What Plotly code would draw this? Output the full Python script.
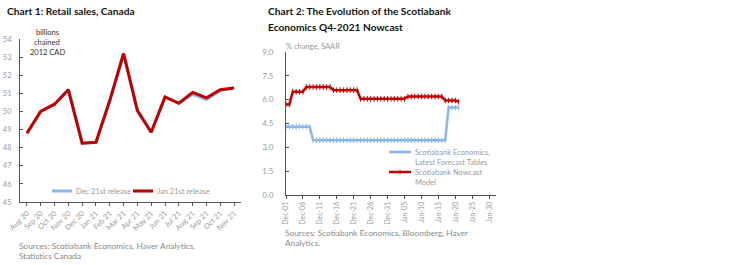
import plotly.graph_objects as go

# ---------------- Chart 1 data ----------------
months = ["Aug 20", "Sep 20", "Oct 20", "Nov 20", "Dec 20", "Jan 21", "Feb 21", "Mar 21",
          "Apr 21", "May 21", "Jun 21", "Jul 21", "Aug 21", "Sep 21", "Oct 21", "Nov 21"]
dec_release = [48.8, 50.0, 50.4, 51.2, 48.25, 48.3, 50.6, 53.2,
               50.05, 48.85, 50.8, 50.45, 50.95, 50.65, 51.15, 51.3]
jan_release = [48.8, 50.0, 50.4, 51.2, 48.25, 48.3, 50.6, 53.2,
               50.05, 48.85, 50.8, 50.45, 51.05, 50.75, 51.2, 51.3]
y1_ticks = [45, 46, 47, 48, 49, 50, 51, 52, 53, 54]

# ---------------- Chart 2 data ----------------
days = ["2021-12-%02d" % d for d in range(1, 32)] + ["2022-01-%02d" % d for d in range(1, 22)]
forecast_tables = [4.3, 4.3, 4.3, 4.3, 4.3, 4.3, 4.3, 4.3,
                   3.45, 3.45, 3.45, 3.45, 3.45, 3.45, 3.45, 3.45, 3.45, 3.45,
                   3.45, 3.45, 3.45, 3.45, 3.45, 3.45, 3.45, 3.45, 3.45, 3.45,
                   3.45, 3.45, 3.45, 3.45, 3.45, 3.45, 3.45, 3.45, 3.45, 3.45,
                   3.45, 3.45, 3.45, 3.45, 3.45, 3.45, 3.45, 3.45, 3.45, 3.45,
                   5.5, 5.5, 5.5, 5.5]
nowcast = [5.7, 5.7, 6.5, 6.5, 6.5, 6.5,
           6.8, 6.8, 6.8, 6.8, 6.8, 6.8, 6.8, 6.8,
           6.6, 6.6, 6.6, 6.6, 6.6, 6.6, 6.6, 6.6,
           6.05, 6.05, 6.05, 6.05, 6.05, 6.05, 6.05, 6.05, 6.05, 6.05, 6.05, 6.05, 6.05, 6.05,
           6.2, 6.2, 6.2, 6.2, 6.2, 6.2, 6.2, 6.2, 6.2, 6.2, 6.2,
           5.95, 5.95, 5.95, 5.95, 5.87]
y2_ticks = [0.0, 1.5, 3.0, 4.5, 6.0, 7.5, 9.0]

BLUE = "#8AB6E8"
RED = "#C00000"
GREY_TXT = "#9a9a9a"
SRC_TXT = "#8a8a8a"
AXIS = "#555555"
FONT = "Lato, Liberation Sans, Arial"

W, H = 752, 265
def px(x):
    return x / W
def py(y):
    return 1 - y / H

fig = go.Figure()

fig.add_trace(go.Scatter(x=months, y=dec_release, name="Dec 21st release", mode="lines",
                         line=dict(color=BLUE, width=3), xaxis="x", yaxis="y"))
fig.add_trace(go.Scatter(x=months, y=jan_release, name="Jan 21st release", mode="lines",
                         line=dict(color=RED, width=3), xaxis="x", yaxis="y"))

fig.add_trace(go.Scatter(x=days, y=forecast_tables, name="Scotiabank Economics, Latest Forecast Tables",
                         mode="lines+markers", line=dict(color=BLUE, width=2.5),
                         marker=dict(color=BLUE, size=4, symbol="line-ns-open", line=dict(width=1, color=BLUE)),
                         xaxis="x2", yaxis="y2"))
fig.add_trace(go.Scatter(x=days, y=nowcast, name="Scotiabank Nowcast Model",
                         mode="lines+markers", line=dict(color=RED, width=2.5),
                         marker=dict(color=RED, size=4, symbol="line-ns-open", line=dict(width=1, color=RED)),
                         xaxis="x2", yaxis="y2"))

common_axis = dict(showline=True, linecolor=AXIS, linewidth=1, showgrid=False, zeroline=False,
                   tickcolor=AXIS, ticklen=3, automargin=False)

fig.update_layout(
    width=W, height=H,
    margin=dict(l=0, r=0, t=0, b=0),
    paper_bgcolor="white", plot_bgcolor="white",
    font=dict(family=FONT, size=8, color=GREY_TXT),
    showlegend=False,
    xaxis=dict(domain=[px(20), px(241)], type="category", range=[-0.5, 15.5],
               ticks="outside", tickangle=-45, tickfont=dict(family=FONT, size=7.5, color=GREY_TXT),
               anchor="y", **common_axis),
    yaxis=dict(domain=[py(202), py(39)], range=[45, 54], tickvals=y1_ticks,
               ticks="inside", tickfont=dict(family=FONT, size=7.5, color=GREY_TXT),
               ticklabelstandoff=6, anchor="x", **common_axis),
    xaxis2=dict(domain=[px(286), px(496)], type="date", range=["2021-12-01", "2022-02-01"],
                tick0="2021-12-01", dtick=5 * 86400000, tickformat="%b-%d",
                ticks="outside", tickangle=-90, tickfont=dict(family=FONT, size=7, color=GREY_TXT),
                anchor="y2", **common_axis),
    yaxis2=dict(domain=[py(195), py(52)], range=[0, 9], tickvals=y2_ticks, tickformat=".1f",
                ticks="inside", tickfont=dict(family=FONT, size=8, color=GREY_TXT),
                ticklabelstandoff=10, anchor="x2", **common_axis),
)

annos = [
    dict(text="<b>Chart 1: Retail sales, Canada</b>", x=px(5), y=py(11), font=dict(size=10.2, color="#111")),
    dict(text="<b>Chart 2: The Evolution of the Scotiabank</b>", x=px(266), y=py(11), font=dict(size=10.2, color="#111")),
    dict(text="<b>Economics Q4-2021 Nowcast</b>", x=px(266), y=py(27), font=dict(size=10.2, color="#111")),
    dict(text="Sources: Scotiabank Economics, Haver Analytics,", x=px(17), y=py(246), font=dict(size=8.3, color=SRC_TXT)),
    dict(text="Statistics Canada", x=px(17), y=py(256), font=dict(size=8.3, color=SRC_TXT)),
    dict(text="Sources: Scotiabank Economics, Bloomberg, Haver", x=px(283), y=py(233), font=dict(size=8.3, color=SRC_TXT)),
    dict(text="Analytics.", x=px(283), y=py(243), font=dict(size=8.3, color=SRC_TXT)),
    dict(text="% change, SAAR", x=px(284), y=py(47), font=dict(size=7.5, color=GREY_TXT)),
    # legend texts
    dict(text="Dec 21st release", x=px(74), y=py(191), font=dict(size=7.5, color=GREY_TXT)),
    dict(text="Jan 21st release", x=px(155), y=py(191), font=dict(size=7.5, color=GREY_TXT)),
    dict(text="Scotiabank Economics,", x=px(413), y=py(152), font=dict(size=7.5, color=GREY_TXT)),
    dict(text="Latest Forecast Tables", x=px(413), y=py(162), font=dict(size=7.5, color=GREY_TXT)),
    dict(text="Scotiabank Nowcast", x=px(413), y=py(172), font=dict(size=7.5, color=GREY_TXT)),
    dict(text="Model", x=px(413), y=py(182), font=dict(size=7.5, color=GREY_TXT)),
]
for a in annos:
    fig.add_annotation(xref="paper", yref="paper", xanchor="left", yanchor="middle",
                       showarrow=False, font_family=FONT, **a)

for t, yy in [("billions", 33), ("chained", 43), ("2012 CAD", 53)]:
    fig.add_annotation(xref="paper", yref="paper", x=px(47), y=py(yy), text=t,
                       xanchor="center", yanchor="middle", showarrow=False,
                       font=dict(family=FONT, size=7.5, color="#333"))

# legend samples
for x0, x1, yy, col, w in [(52, 72, 191, BLUE, 3), (133, 153, 191, RED, 3),
                           (389, 411, 152, BLUE, 2.5), (389, 411, 172, RED, 2.5)]:
    fig.add_shape(type="line", xref="paper", yref="paper", x0=px(x0), x1=px(x1),
                  y0=py(yy), y1=py(yy), line=dict(color=col, width=w))
for yy, col in [(152, BLUE), (172, RED)]:
    fig.add_shape(type="line", xref="paper", yref="paper", x0=px(400), x1=px(400),
                  y0=py(yy - 2), y1=py(yy + 2), line=dict(color=col, width=1))

fig.write_html("out.html")
